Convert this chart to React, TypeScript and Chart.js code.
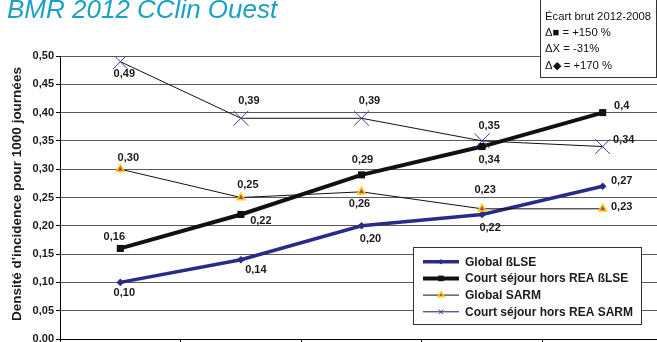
import { useEffect, useRef } from 'react';
import { Chart, registerables } from 'chart.js';

Chart.register(...registerables);

const years = ['2008', '2009', '2010', '2011', '2012'];
const globalBLSE = [0.10, 0.14, 0.20, 0.22, 0.27];
const courtBLSE = [0.16, 0.22, 0.29, 0.34, 0.40];
const globalSARM = [0.30, 0.25, 0.26, 0.23, 0.23];
const courtSARM = [0.49, 0.39, 0.39, 0.35, 0.34];
const seriesNames = ['Global ßLSE', 'Court séjour hors REA ßLSE', 'Global SARM', 'Court séjour hors REA SARM'];
const titleText = 'BMR 2012 CClin Ouest';
const yAxisTitle = "Densité d'incidence pour 1000 journées";
const noteLines = ['Écart brut 2012-2008', 'Δ■ = +150 %', 'ΔX = -31%', 'Δ◆ = +170 %'];
const yMin = 0;
const yMax = 0.5;
const yStep = 0.05;

const FONT = '"Liberation Sans", Arial, Helvetica, sans-serif';
const VIEW_W = 657;
const VIEW_H = 342;
const W = 666;
const H = 346;

// label offsets (dx, dy) of each data label centre from its point
const labelOffsets = [
  [[4, 11], [15, 10], [9, 13], [8, 13], [19, -5]],
  [[-6, -11], [20, 6], [1, -15], [7, 13], [19, -7]],
  [[8, -11], [7, -13], [-2, 12], [3, -19], [19, -2]],
  [[4, 12], [8, -17], [8, -17], [7, -15], [21, -7]],
];

const fmt = (v: number) => v.toFixed(2).replace('.', ',');
const fmtLabel = (v: number) => {
  const s = fmt(v);
  return s === '0,40' ? '0,4' : s;
};

function drawMarker(ctx: CanvasRenderingContext2D, kind: number, x: number, y: number, scale: number) {
  ctx.save();
  if (kind === 0) {
    const r = 3.5 * scale;
    ctx.fillStyle = '#2a2a88';
    ctx.beginPath();
    ctx.moveTo(x - r, y);
    ctx.lineTo(x, y - r);
    ctx.lineTo(x + r, y);
    ctx.lineTo(x, y + r);
    ctx.closePath();
    ctx.fill();
  } else if (kind === 1) {
    const s = 3.5 * scale;
    ctx.fillStyle = '#111';
    ctx.fillRect(x - s, y - s, 2 * s, 2 * s);
  } else if (kind === 2) {
    const r = 4.3 * scale;
    ctx.fillStyle = '#c0388f';
    ctx.strokeStyle = '#f2d600';
    ctx.lineWidth = 1.5;
    ctx.beginPath();
    ctx.moveTo(x, y - r);
    ctx.lineTo(x + r * 0.866, y + r * 0.5);
    ctx.lineTo(x - r * 0.866, y + r * 0.5);
    ctx.closePath();
    ctx.fill();
    ctx.stroke();
  } else {
    const r = 7.4 * scale;
    ctx.strokeStyle = '#3a3aa8';
    ctx.lineWidth = 1;
    ctx.beginPath();
    ctx.moveTo(x - r * 0.707, y - r * 0.707);
    ctx.lineTo(x + r * 0.707, y + r * 0.707);
    ctx.moveTo(x + r * 0.707, y - r * 0.707);
    ctx.lineTo(x - r * 0.707, y + r * 0.707);
    ctx.stroke();
  }
  ctx.restore();
}

const decorPlugin = {
  id: 'decor',
  afterDatasetsDraw(chart: any) {
    const ctx: CanvasRenderingContext2D = chart.ctx;
    ctx.save();
    // data labels
    ctx.font = `bold 11px ${FONT}`;
    ctx.fillStyle = '#1a1a1a';
    ctx.textAlign = 'center';
    ctx.textBaseline = 'middle';
    chart.data.datasets.forEach((ds: any, i: number) => {
      const meta = chart.getDatasetMeta(i);
      meta.data.forEach((pt: any, j: number) => {
        const [dx, dy] = labelOffsets[i][j];
        ctx.fillText(fmtLabel(ds.data[j]), pt.x + dx, pt.y + dy);
      });
    });

    // legend box
    const lx = 413.5, ly = 247.5, lw = 228, lh = 77;
    ctx.fillStyle = '#fff';
    ctx.fillRect(lx, ly, lw, lh);
    ctx.strokeStyle = '#333';
    ctx.lineWidth = 1;
    ctx.strokeRect(lx, ly, lw, lh);
    const widths = [3.5, 4, 1, 1];
    const colors = ['#2a2a88', '#111', '#111', '#1a1a5a'];
    seriesNames.forEach((name, k) => {
      const y = 261.7 + k * 16.7;
      ctx.strokeStyle = colors[k];
      ctx.lineWidth = widths[k];
      ctx.beginPath();
      ctx.moveTo(423, y);
      ctx.lineTo(459, y);
      ctx.stroke();
      drawMarker(ctx, k, 441, y, k === 3 ? 0.45 : 0.8);
      ctx.fillStyle = '#1a1a1a';
      ctx.font = `bold 12px ${FONT}`;
      ctx.textAlign = 'left';
      ctx.textBaseline = 'middle';
      ctx.fillText(name, 465, y + 0.5);
    });

    // note box
    ctx.fillStyle = '#fff';
    ctx.fillRect(540.5, -2, 130, 79.5);
    ctx.strokeStyle = '#333';
    ctx.lineWidth = 1;
    ctx.strokeRect(540.5, -2, 116, 79.5);
    ctx.fillStyle = '#111';
    ctx.font = `11.3px ${FONT}`;
    ctx.textAlign = 'left';
    ctx.textBaseline = 'alphabetic';
    noteLines.forEach((t, k) => {
      ctx.fillText(t, 545, 19.5 + k * 16.4);
    });

    // title
    ctx.fillStyle = '#1ba1c1';
    ctx.font = `italic 26px ${FONT}`;
    ctx.fillText(titleText, 7, 17.5);

    // y axis title
    ctx.save();
    ctx.translate(17.5, 194);
    ctx.rotate(-Math.PI / 2);
    ctx.fillStyle = '#1a1a1a';
    ctx.font = `bold 13.5px ${FONT}`;
    ctx.textAlign = 'center';
    ctx.textBaseline = 'middle';
    ctx.fillText(yAxisTitle, 0, 0);
    ctx.restore();

    ctx.restore();
  },
};

export default function App() {
  const ref = useRef<HTMLCanvasElement>(null);
  useEffect(() => {
    if (!ref.current) return;
    const chart = new Chart(ref.current, {
      type: 'line',
      data: {
        labels: years,
        datasets: [
          {
            label: seriesNames[0],
            data: globalBLSE,
            borderColor: '#2a2a88',
            backgroundColor: '#2a2a88',
            borderWidth: 3.5,
            pointStyle: 'rectRot',
            pointRadius: 3.8,
            pointBorderWidth: 0,
            pointBackgroundColor: '#2a2a88',
            order: 3,
          },
          {
            label: seriesNames[1],
            data: courtBLSE,
            borderColor: '#111',
            backgroundColor: '#111',
            borderWidth: 4,
            pointStyle: 'rect',
            pointRadius: 5,
            pointBorderWidth: 0,
            pointBackgroundColor: '#111',
            order: 2,
          },
          {
            label: seriesNames[2],
            data: globalSARM,
            borderColor: '#111',
            borderWidth: 1,
            pointStyle: 'triangle',
            pointRadius: 4.5,
            pointBorderWidth: 1.5,
            pointBackgroundColor: '#c0388f',
            pointBorderColor: '#f2d600',
            order: 1,
          },
          {
            label: seriesNames[3],
            data: courtSARM,
            borderColor: '#111',
            borderWidth: 1,
            pointStyle: 'crossRot',
            pointRadius: 10.5,
            pointBorderWidth: 1,
            pointBorderColor: '#3a3aa8',
            pointBackgroundColor: '#3a3aa8',
            order: 0,
          },
        ],
      },
      options: {
        responsive: false,
        animation: false,
        devicePixelRatio: 1,
        layout: { autoPadding: false, padding: { top: 56, right: 3, left: 0, bottom: 0 } },
        plugins: {
          legend: { display: false },
          tooltip: { enabled: false },
          title: { display: false },
        },
        scales: {
          x: {
            type: 'category',
            offset: true,
            grid: {
              offset: true,
              drawOnChartArea: false,
              drawTicks: true,
              tickLength: 5,
              color: '#000',
            },
            border: { display: true, color: '#000', width: 1 },
            ticks: { display: false },
            afterFit: (s: any) => {
              s.height = 7;
            },
          },
          y: {
            min: yMin,
            max: yMax,
            ticks: {
              stepSize: yStep,
              padding: 2,
              color: '#1a1a1a',
              font: { family: FONT, size: 11, weight: 'bold' },
              callback: (v: any) => fmt(Number(v)),
            },
            grid: {
              color: '#5a5a5a',
              lineWidth: 1,
              tickLength: 4,
              tickColor: '#000',
            },
            border: { display: true, color: '#000', width: 1 },
            afterFit: (s: any) => {
              s.width = 60;
              s.paddingTop = 0;
              s.paddingBottom = 0;
            },
          },
        },
      },
      plugins: [decorPlugin],
    });
    return () => chart.destroy();
  }, []);
  return (
    <div style={{ position: 'fixed', left: 0, top: 0, width: VIEW_W, height: VIEW_H, overflow: 'hidden', background: '#fff' }}>
      <canvas ref={ref} width={W} height={H} style={{ width: W, height: H, display: 'block' }} />
    </div>
  );
}
